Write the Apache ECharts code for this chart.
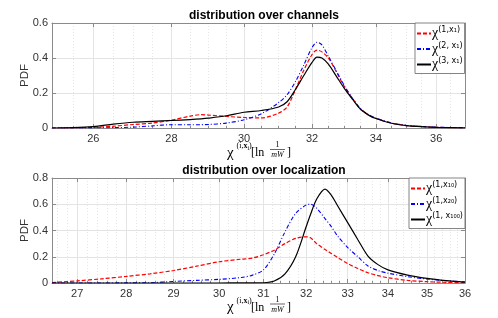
<!DOCTYPE html>
<html><head><meta charset="utf-8">
<script src="https://cdn.jsdelivr.net/npm/echarts@6/dist/echarts.min.js"></script>
<style>html,body{margin:0;padding:0;background:#fff}#c{width:498px;height:318px}</style>
</head><body><div id="c"></div>
<script>
// ---------- data: top panel (distribution over channels) ----------
const topX     = [25, 25.5, 26, 26.5, 27, 27.5, 28, 28.5, 28.8, 29, 29.5, 30, 30.5, 31, 31.25, 31.5, 31.75, 32, 32.15, 32.3, 32.5, 32.75, 33, 33.25, 33.5, 33.75, 34, 34.5, 35, 35.5, 36, 37];
const topRed   = [0, 0.001, 0.004, 0.01, 0.02, 0.028, 0.045, 0.068, 0.076, 0.074, 0.066, 0.06, 0.058, 0.085, 0.12, 0.22, 0.33, 0.42, 0.445, 0.435, 0.40, 0.32, 0.235, 0.17, 0.11, 0.076, 0.055, 0.028, 0.014, 0.008, 0.004, 0.001];
const topBlue  = [0, 0, 0.001, 0.002, 0.005, 0.012, 0.019, 0.019, 0.019, 0.02, 0.028, 0.047, 0.082, 0.145, 0.19, 0.265, 0.36, 0.46, 0.49, 0.475, 0.41, 0.325, 0.24, 0.17, 0.112, 0.078, 0.057, 0.029, 0.015, 0.009, 0.005, 0.001];
const topBlack = [0, 0.002, 0.008, 0.022, 0.033, 0.038, 0.043, 0.048, 0.052, 0.056, 0.07, 0.09, 0.1, 0.12, 0.15, 0.22, 0.3, 0.375, 0.405, 0.4, 0.365, 0.295, 0.225, 0.165, 0.108, 0.075, 0.054, 0.027, 0.014, 0.008, 0.004, 0.001];
const topNames = ['(1,x₁)', '(2, x₁)', '(3, x₁)'];
const topTicks = [26, 28, 30, 32, 34, 36];
const topMinor = [25.5, 26.5, 27, 27.5, 28.5, 29, 29.5, 30.5, 31, 31.5, 32.5, 33, 33.5, 34.5, 35, 35.5, 36.5];
const topYTicks = [0, 0.2, 0.4, 0.6];

// ---------- data: bottom panel (distribution over localization) ----------
const botX     = [26.5, 27, 27.5, 28, 28.5, 29, 29.5, 30, 30.5, 30.75, 31, 31.25, 31.5, 31.75, 32, 32.1, 32.25, 32.45, 32.6, 32.75, 33, 33.25, 33.5, 33.75, 34, 34.5, 35, 35.5, 36];
const botRed   = [0.003, 0.016, 0.032, 0.05, 0.07, 0.095, 0.128, 0.162, 0.182, 0.19, 0.215, 0.25, 0.3, 0.34, 0.352, 0.345, 0.3, 0.255, 0.225, 0.195, 0.148, 0.11, 0.078, 0.056, 0.04, 0.02, 0.01, 0.005, 0.002];
const botBlue  = [0, 0, 0, 0.001, 0.002, 0.012, 0.02, 0.028, 0.042, 0.06, 0.1, 0.22, 0.39, 0.53, 0.595, 0.6, 0.57, 0.49, 0.43, 0.36, 0.27, 0.2, 0.13, 0.095, 0.075, 0.048, 0.03, 0.018, 0.008];
const botBlack = [0, 0, 0, 0, 0, 0, 0, 0, 0.001, 0.001, 0.002, 0.015, 0.07, 0.2, 0.43, 0.52, 0.64, 0.715, 0.67, 0.59, 0.46, 0.33, 0.205, 0.14, 0.1, 0.06, 0.035, 0.018, 0.006];
const botNames = ['(1,x₁₀)', '(1,x₂₀)', '(1, x₁₀₀)'];
const botTicks = [27, 28, 29, 30, 31, 32, 33, 34, 35, 36];
const botMinor = [26.6, 26.8, 27.2, 27.4, 27.6, 27.8, 28.2, 28.4, 28.6, 28.8, 29.2, 29.4, 29.6, 29.8, 30.2, 30.4, 30.6, 30.8, 31.2, 31.4, 31.6, 31.8, 32.2, 32.4, 32.6, 32.8, 33.2, 33.4, 33.6, 33.8, 34.2, 34.4, 34.6, 34.8, 35.2, 35.4, 35.6, 35.8];
const botYTicks = [0, 0.2, 0.4, 0.6, 0.8];

const LN = Math.log;
const AX = '#8a8a8a', TXT = '#333';
const chart = echarts.init(document.getElementById('c'));

function xAxes(gi, lo, hi, major, minor) {
  const base = {gridIndex: gi, type: 'value', min: LN(lo), max: LN(hi)};
  return [
    Object.assign({}, base, {position: 'bottom',
      axisLine: {show: true, onZero: false, lineStyle: {color: AX, width: 1}},
      axisTick: {show: true, inside: true, length: 4, customValues: major.map(LN), lineStyle: {color: AX}},
      axisLabel: {show: true, customValues: major.map(LN), formatter: v => String(Math.round(Math.exp(v))), color: TXT, fontSize: 11, fontFamily: 'Liberation Sans', margin: 5},
      splitLine: {show: true, lineStyle: {color: '#e4e4e4', width: 1}}}),
    Object.assign({}, base, {position: 'bottom',
      axisLine: {show: false},
      axisTick: {show: true, inside: true, length: 2, customValues: minor.map(LN), lineStyle: {color: AX}},
      axisLabel: {show: false},
      splitLine: {show: true, lineStyle: {color: '#e6e6e6', width: 1, type: [1, 2]}}}),
    Object.assign({}, base, {position: 'top',
      axisLine: {show: true, onZero: false, lineStyle: {color: AX, width: 1}},
      axisTick: {show: true, inside: true, length: 4, customValues: major.map(LN), lineStyle: {color: AX}},
      axisLabel: {show: false}, splitLine: {show: false}})
  ];
}
function yAxes(gi, ticks) {
  const max = ticks[ticks.length - 1];
  return [
    {gridIndex: gi, type: 'value', min: 0, max: max, interval: 0.2, position: 'left',
     name: 'PDF', nameLocation: 'middle', nameGap: 21, nameMoveOverlap: false,
     nameTextStyle: {fontSize: 11.5, color: TXT, fontFamily: 'Liberation Sans'},
     axisLine: {show: true, onZero: false, lineStyle: {color: AX}},
     axisTick: {show: true, inside: true, length: 4, lineStyle: {color: AX}},
     axisLabel: {color: TXT, fontSize: 11, fontFamily: 'Liberation Sans', margin: 4, formatter: v => String(+v.toFixed(1))},
     splitLine: {show: true, lineStyle: {color: '#e4e4e4'}}},
    {gridIndex: gi, type: 'value', min: 0, max: max, interval: 0.2, position: 'right',
     axisLine: {show: true, onZero: false, lineStyle: {color: AX}},
     axisTick: {show: true, inside: true, length: 4, lineStyle: {color: AX}},
     axisLabel: {show: false}, splitLine: {show: false}}
  ];
}
function line(name, xs, ys, color, type, xi, yi, w) {
  return {name: name, type: 'line', xAxisIndex: xi, yAxisIndex: yi, showSymbol: false, symbol: 'none',
    smooth: 0.3, data: xs.map((x, i) => [LN(x), ys[i]]),
    lineStyle: {color: color, width: w, type: type}, itemStyle: {color: color}, z: 5};
}
const legendRich = {
  c: {fontSize: 14, fontFamily: 'Liberation Serif', color: '#000', lineHeight: 15},
  s: {fontSize: 8, fontFamily: 'DejaVu Sans', color: '#000', verticalAlign: 'top'}
};
function legend(left, top, names) {
  return {left: left, top: top, orient: 'vertical', itemWidth: 14, itemHeight: 8, itemGap: 1,
    padding: [3, 2, 2, 1], borderColor: '#666', borderWidth: 0.8, backgroundColor: '#fff',
    itemStyle: {opacity: 0, borderWidth: 0},
    data: names,
    formatter: n => '{c|χ}{s|' + n.replace(/^[tb]/, '') + '}',
    textStyle: {rich: legendRich, padding: [0, 0, 0, -4]}};
}
function xlabel(cy) {
  const f = 'Liberation Serif';
  return [
    {type: 'text', x: 227, y: cy, style: {text: 'χ', font: '15px ' + f, fill: '#000', align: 'left', verticalAlign: 'middle', textAlign: 'left', textVerticalAlign: 'middle'}},
    {type: 'text', x: 236.5, y: cy - 7, style: {text: '{n|(i,}{b|x}{s|i}{n|)}', fill: '#000', align: 'left', verticalAlign: 'middle', textAlign: 'left', textVerticalAlign: 'middle',
      rich: {n: {fontSize: 8, fontFamily: f}, b: {fontSize: 8, fontFamily: f, fontWeight: 'bold'}, s: {fontSize: 6, fontFamily: f, padding: [4, 0, 0, 0]}}}},
    {type: 'text', x: 251, y: cy, style: {text: '[ln', font: '12px ' + f, fill: '#000', align: 'left', verticalAlign: 'middle', textAlign: 'left', textVerticalAlign: 'middle'}},
    {type: 'text', x: 277.5, y: cy - 8, style: {text: '1', font: '8px ' + f, fill: '#000', align: 'center', verticalAlign: 'middle', textAlign: 'center', textVerticalAlign: 'middle'}},
    {type: 'line', shape: {x1: 270, y1: cy - 3.5, x2: 285, y2: cy - 3.5}, style: {stroke: '#000', lineWidth: 0.6}},
    {type: 'text', x: 277.5, y: cy + 2, style: {text: 'mW', font: 'italic 8px ' + f, fill: '#000', align: 'center', verticalAlign: 'middle', textAlign: 'center', textVerticalAlign: 'middle'}},
    {type: 'text', x: 287, y: cy, style: {text: ']', font: '12px ' + f, fill: '#000', align: 'left', verticalAlign: 'middle', textAlign: 'left', textVerticalAlign: 'middle'}}
  ];
}

const tN = topNames.map(n => 't' + n), bN = botNames.map(n => 'b' + n);
chart.setOption({
  animation: false,
  backgroundColor: '#fff',
  title: [
    {text: 'distribution over channels', left: 259, top: 5, textAlign: 'center', textStyle: {fontSize: 12, fontWeight: 'bold', color: '#000', fontFamily: 'Liberation Sans'}},
    {text: 'distribution over localization', left: 259, top: 160, textAlign: 'center', textStyle: {fontSize: 12, fontWeight: 'bold', color: '#000', fontFamily: 'Liberation Sans'}}
  ],
  grid: [
    {left: 52, top: 23, width: 413, height: 105},
    {left: 52, top: 178, width: 413, height: 105}
  ],
  xAxis: [].concat(xAxes(0, 25, 37, topTicks, topMinor), xAxes(1, 26.5, 36, botTicks, botMinor)),
  yAxis: [].concat(yAxes(0, topYTicks), yAxes(1, botYTicks)),
  legend: [legend(415, 23, tN), legend(409, 178, bN)],
  series: [
    line(tN[0], topX, topRed, '#ff0000', [4, 2], 0, 0, 1.2),
    line(tN[1], topX, topBlue, '#0000ff', [4, 2, 1, 2], 0, 0, 1.1),
    line(tN[2], topX, topBlack, '#000000', 'solid', 0, 0, 1.2),
    line(bN[0], botX, botRed, '#ff0000', [4, 2], 3, 2, 1.2),
    line(bN[1], botX, botBlue, '#0000ff', [4, 2, 1, 2], 3, 2, 1.1),
    line(bN[2], botX, botBlack, '#000000', 'solid', 3, 2, 1.2)
  ],
  graphic: [].concat(xlabel(153), xlabel(307.5))
});
</script></body></html>
